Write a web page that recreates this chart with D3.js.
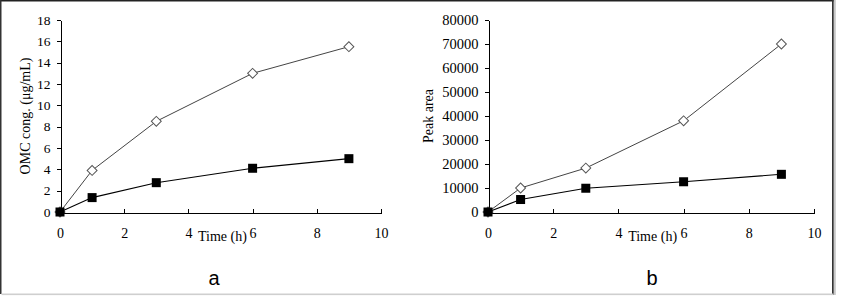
<!DOCTYPE html>
<html>
<head>
<meta charset="utf-8">
<script src="https://cdn.jsdelivr.net/npm/d3@7"></script>
<style>
    body { margin: 0; background: #fff; }
    svg { display: block; }
    .axis path, .axis line { stroke: #000; shape-rendering: crispEdges; }
    .axis text { font-family: "Liberation Serif", "Times New Roman", serif; fill: #000; }
    .axis-title { font-family: "Liberation Serif", "Times New Roman", serif; font-size: 14px; fill: #000; }
    .panel-label { font-family: "Liberation Sans", Arial, sans-serif; font-size: 20px; fill: #000; }
</style>
</head>
<body>
<div id="chart"></div>
<script>
// time points (h)
let times = [0, 1, 3, 6, 9];

// panel a: OMC concentration (ug/mL)
let concOpen = [0, 3.9, 8.5, 13.0, 15.5];
let concFilled = [0, 1.35, 2.75, 4.1, 5.0];

// panel b: peak area
let areaOpen = [0, 10000, 18300, 38000, 70000];
let areaFilled = [0, 5200, 9900, 12600, 15700];

let xTicks = [0, 2, 4, 6, 8, 10];
let concTicks = [0, 2, 4, 6, 8, 10, 12, 14, 16, 18];
let areaTicks = [0, 10000, 20000, 30000, 40000, 50000, 60000, 70000, 80000];

const W = 841, H = 296;

let svg = d3.select("#chart").append("svg")
    .attr("width", W)
    .attr("height", H);

// outer frame
svg.append("rect").attr("x", 0).attr("y", 0).attr("width", 834).attr("height", 1.5).attr("fill", "#222");
svg.append("rect").attr("x", 0).attr("y", 0).attr("width", 1.5).attr("height", 294).attr("fill", "#333");
svg.append("rect").attr("x", 832).attr("y", 0).attr("width", 1.8).attr("height", 295).attr("fill", "#333");
svg.append("rect").attr("x", 833.8).attr("y", 0).attr("width", 2).attr("height", 295).attr("fill", "#c8c8c8");
svg.append("rect").attr("x", 1.5).attr("y", 293.5).attr("width", 832).attr("height", 1.6).attr("fill", "#cfcfcf");

function drawPanel(opts) {
    let x = d3.scaleLinear().domain([0, 10]).range([opts.left, opts.right]);
    let y = d3.scaleLinear().domain([0, opts.yMax]).range([212, 20]);

    let g = svg.append("g");

    g.append("g")
        .attr("class", "axis x-axis")
        .attr("transform", "translate(0,212.5)")
        .call(d3.axisBottom(x).tickValues(xTicks).tickSizeInner(-4).tickSizeOuter(0).tickPadding(16).tickFormat(d3.format("d")))
        .call(a => a.selectAll(".tick text").attr("dy", "0.71em").style("font-size", "14px"));

    g.append("g")
        .attr("class", "axis y-axis")
        .attr("transform", `translate(${opts.left + 0.5},0)`)
        .call(d3.axisLeft(y).tickValues(opts.yTicks).tickSizeInner(4).tickSizeOuter(0).tickPadding(6).tickFormat(d3.format("d")))
        .call(a => a.selectAll(".tick text").style("font-size", opts.yFont));

    g.append("text")
        .attr("class", "axis-title")
        .attr("transform", `translate(${opts.titleX},116) rotate(-90)`)
        .attr("text-anchor", "middle")
        .attr("dy", "0.35em")
        .text(opts.yTitle);

    g.append("text")
        .attr("class", "axis-title")
        .attr("x", x(4.3))
        .attr("y", 241)
        .text("Time (h)");

    g.append("text")
        .attr("class", "panel-label")
        .attr("x", opts.labelX)
        .attr("y", 285)
        .attr("text-anchor", "middle")
        .text(opts.label);

    let line = d3.line()
        .x((d, i) => x(times[i]))
        .y(d => y(d));

    // open diamonds series
    g.append("path")
        .datum(opts.open)
        .attr("fill", "none")
        .attr("stroke", "#444")
        .attr("stroke-width", 1)
        .attr("d", line);

    // filled squares series
    g.append("path")
        .datum(opts.filled)
        .attr("fill", "none")
        .attr("stroke", "#000")
        .attr("stroke-width", 1.1)
        .attr("d", line);

    g.selectAll(".diamond")
        .data(opts.open).enter()
        .append("path")
        .attr("class", "diamond")
        .attr("transform", (d, i) => `translate(${x(times[i])},${y(d)}) rotate(45)`)
        .attr("d", "M-3.5,-3.5H3.5V3.5H-3.5Z")
        .attr("fill", "#fff")
        .attr("stroke", "#555")
        .attr("stroke-width", 1);

    g.selectAll(".square")
        .data(opts.filled).enter()
        .append("rect")
        .attr("class", "square")
        .attr("x", (d, i) => x(times[i]) - 4.5)
        .attr("y", d => y(d) - 4.5)
        .attr("width", 9)
        .attr("height", 9)
        .attr("fill", "#000");
}

drawPanel({
    left: 60, right: 381, yMax: 18, yTicks: concTicks, yFont: "13.5px",
    open: concOpen, filled: concFilled,
    yTitle: "OMC cong. (\u03bcg/mL)", titleX: 25,
    label: "a", labelX: 214
});

drawPanel({
    left: 488, right: 814, yMax: 80000, yTicks: areaTicks, yFont: "14.5px",
    open: areaOpen, filled: areaFilled,
    yTitle: "Peak area", titleX: 428,
    label: "b", labelX: 652
});
</script>
</body>
</html>
